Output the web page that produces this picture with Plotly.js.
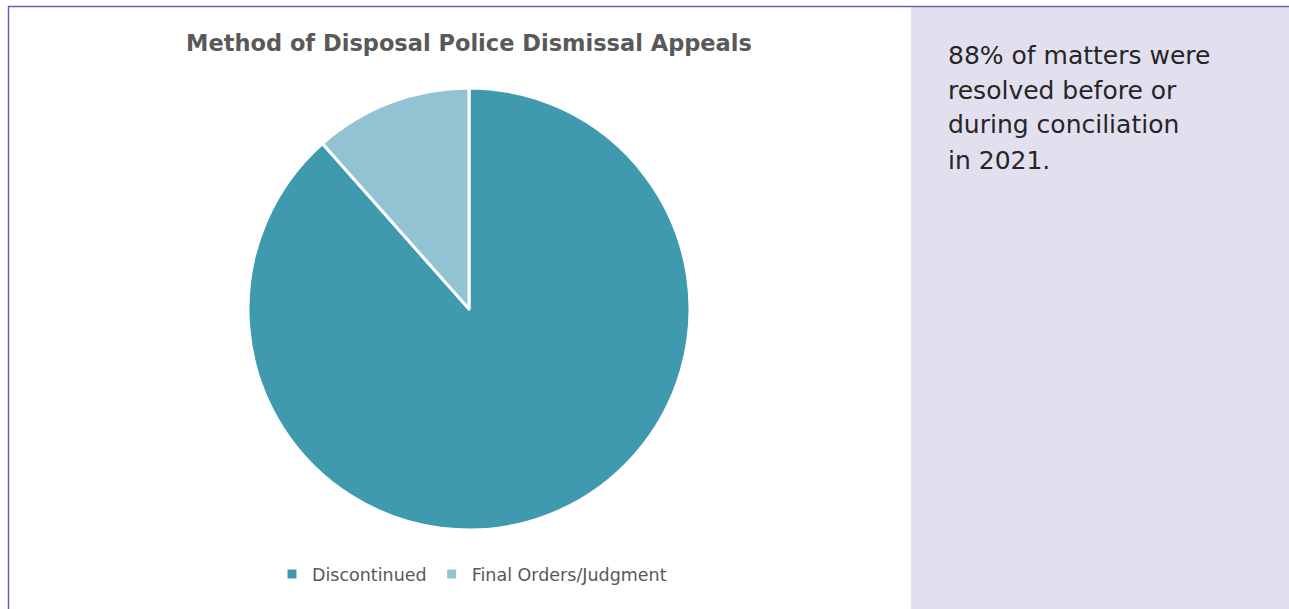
<!DOCTYPE html>
<html>
<head>
<meta charset="utf-8">
<script src="https://cdn.plot.ly/plotly-3.0.1.min.js"></script>
<style>
html,body{margin:0;padding:0;background:#fff;}
#chart{width:1289px;height:609px;}
</style>
</head>
<body>
<div id="chart"></div>
<script>
var categories = ["Discontinued", "Final Orders/Judgment"];
var values = [23, 3];
var colors = ["#3f9ab0", "#92c3d3"];
var chartTitle = "Method of Disposal Police Dismissal Appeals";
var sideNoteLines = ["88% of matters were", "resolved before or", "during conciliation", "in 2021."];

var W = 1289, H = 609;
var cx = 469, cy = 309, r = 221;
var fam = "'DejaVu Sans', Lato, sans-serif";

var trace = {
  type: "pie",
  labels: categories,
  values: values,
  sort: false,
  direction: "clockwise",
  rotation: 0,
  textinfo: "none",
  hoverinfo: "label+percent",
  marker: {colors: colors, line: {color: "#ffffff", width: 3}},
  domain: {x: [(cx - r) / W, (cx + r) / W], y: [1 - (cy + r) / H, 1 - (cy - r) / H]}
};

var annotations = sideNoteLines.map(function (line, i) {
  return {text: line, xref: "paper", yref: "paper", x: 946 / W, y: 1 - (55 + 35 * i) / H,
    xanchor: "left", yanchor: "middle", align: "left", showarrow: false,
    font: {size: 25, color: "#262626", family: fam}};
});

var layout = {
  width: W, height: H,
  margin: {l: 0, r: 0, t: 0, b: 0},
  paper_bgcolor: "#ffffff",
  font: {family: fam, color: "#595959"},
  title: {
    text: "<b>" + chartTitle + "</b>",
    x: 469 / W, xanchor: "center",
    y: 1 - 43 / H, yanchor: "middle",
    font: {size: 22.5, color: "#595959", family: fam}
  },
  showlegend: true,
  legend: {
    orientation: "h",
    x: 472 / W, xanchor: "center",
    y: 1 - 574 / H, yanchor: "middle",
    font: {size: 17.5, color: "#595959", family: fam},
    itemwidth: 30,
    traceorder: "normal"
  },
  shapes: [
    {type: "rect", xref: "paper", yref: "paper", x0: 911 / W, x1: 1, y0: 0, y1: 1 - 7 / H,
     fillcolor: "#e2e0ef", line: {width: 0}, layer: "below"},
    {type: "line", xref: "paper", yref: "paper", x0: 8 / W, x1: 1, y0: 1 - 6.5 / H, y1: 1 - 6.5 / H,
     line: {color: "#6b5eb3", width: 1.5}},
    {type: "line", xref: "paper", yref: "paper", x0: 8.5 / W, x1: 8.5 / W, y0: 0, y1: 1 - 6.5 / H,
     line: {color: "#6b5eb3", width: 1.5}}
  ],
  annotations: annotations
};

Plotly.newPlot("chart", [trace], layout, {displayModeBar: false, staticPlot: true});
</script>
</body>
</html>
